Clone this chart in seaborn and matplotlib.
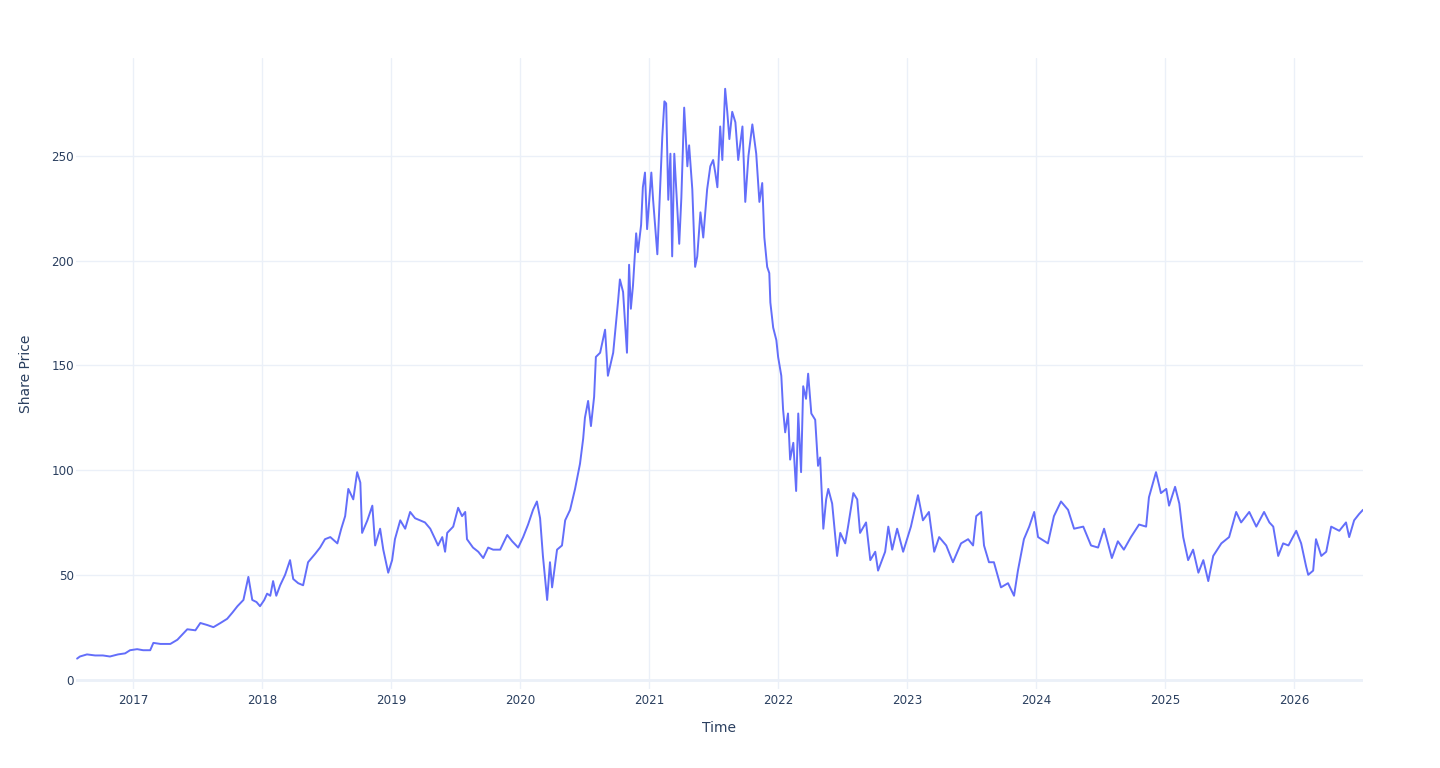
import seaborn as sns
import matplotlib.pyplot as plt
import matplotlib.dates as mdates
import pandas as pd

# Share price (approximate)
dates = [
    '2016-07-26', '2016-08-03', '2016-08-23', '2016-09-15', '2016-10-07', '2016-10-27', '2016-11-19', '2016-12-09', '2016-12-23',
    '2017-01-12', '2017-01-29', '2017-02-18', '2017-02-27', '2017-03-19', '2017-04-16', '2017-05-06', '2017-06-03', '2017-06-26',
    '2017-07-10', '2017-07-30', '2017-08-16', '2017-09-05', '2017-09-24', '2017-10-09', '2017-10-23', '2017-11-09', '2017-11-23',
    '2017-12-04', '2017-12-16', '2017-12-26',
    '2018-01-07', '2018-01-15', '2018-01-24', '2018-02-01', '2018-02-10', '2018-02-21', '2018-03-07', '2018-03-21', '2018-03-30',
    '2018-04-13', '2018-04-27', '2018-05-11', '2018-05-31', '2018-06-14', '2018-06-28', '2018-07-13', '2018-08-02', '2018-08-13',
    '2018-08-24', '2018-09-02', '2018-09-16', '2018-09-27', '2018-10-06', '2018-10-11', '2018-10-26', '2018-11-09', '2018-11-17',
    '2018-12-01', '2018-12-10', '2018-12-24',
    '2019-01-04', '2019-01-12', '2019-01-27', '2019-02-10', '2019-02-24', '2019-03-10', '2019-03-24', '2019-04-07', '2019-04-22',
    '2019-05-06', '2019-05-14', '2019-05-26', '2019-06-03', '2019-06-09', '2019-06-26', '2019-07-10', '2019-07-21', '2019-07-30',
    '2019-08-04', '2019-08-21', '2019-09-05', '2019-09-19', '2019-10-03', '2019-10-17', '2019-11-06', '2019-11-26', '2019-12-10',
    '2019-12-27',
    '2020-01-10', '2020-01-24', '2020-02-07', '2020-02-18', '2020-02-27', '2020-03-06', '2020-03-18', '2020-03-26', '2020-04-01',
    '2020-04-15', '2020-04-29', '2020-05-08', '2020-05-22', '2020-06-05', '2020-06-19', '2020-06-28', '2020-07-03', '2020-07-12',
    '2020-07-20', '2020-07-29', '2020-08-03', '2020-08-15', '2020-08-29', '2020-09-06', '2020-09-21', '2020-10-05', '2020-10-10',
    '2020-10-19', '2020-10-30', '2020-11-05', '2020-11-10', '2020-11-16', '2020-11-25', '2020-11-30', '2020-12-09', '2020-12-14',
    '2020-12-20', '2020-12-26',
    '2021-01-07', '2021-01-12', '2021-01-24', '2021-02-07', '2021-02-13', '2021-02-18', '2021-02-24', '2021-03-02', '2021-03-07',
    '2021-03-13', '2021-03-21', '2021-03-27', '2021-04-02', '2021-04-10', '2021-04-19', '2021-04-24', '2021-05-03', '2021-05-11',
    '2021-05-17', '2021-05-26', '2021-06-03', '2021-06-14', '2021-06-23', '2021-07-01', '2021-07-07', '2021-07-13', '2021-07-21',
    '2021-07-27', '2021-08-04', '2021-08-10', '2021-08-16', '2021-08-24', '2021-09-02', '2021-09-10', '2021-09-22', '2021-09-30',
    '2021-10-09', '2021-10-20', '2021-10-31', '2021-11-09', '2021-11-17', '2021-11-23', '2021-12-01', '2021-12-07', '2021-12-10',
    '2021-12-18', '2021-12-27',
    '2022-01-01', '2022-01-10', '2022-01-15', '2022-01-21', '2022-01-29', '2022-02-04', '2022-02-13', '2022-02-21', '2022-02-27',
    '2022-03-07', '2022-03-13', '2022-03-21', '2022-03-27', '2022-04-05', '2022-04-16', '2022-04-24', '2022-04-30', '2022-05-09',
    '2022-05-17', '2022-05-23', '2022-06-03', '2022-06-17', '2022-06-26', '2022-07-10', '2022-07-18', '2022-08-02', '2022-08-13',
    '2022-08-21', '2022-09-07', '2022-09-19', '2022-10-03', '2022-10-11', '2022-10-31', '2022-11-09', '2022-11-20', '2022-12-04',
    '2022-12-21',
    '2023-01-12', '2023-02-01', '2023-02-15', '2023-03-04', '2023-03-19', '2023-04-02', '2023-04-22', '2023-05-11', '2023-06-03',
    '2023-06-23', '2023-07-07', '2023-07-16', '2023-07-30', '2023-08-07', '2023-08-21', '2023-09-04', '2023-09-24', '2023-10-14',
    '2023-10-31', '2023-11-11', '2023-11-28', '2023-12-13', '2023-12-27',
    '2024-01-07', '2024-02-04', '2024-02-21', '2024-03-12', '2024-04-01', '2024-04-18', '2024-05-14', '2024-06-05', '2024-06-25',
    '2024-07-12', '2024-08-03', '2024-08-20', '2024-09-06', '2024-09-26', '2024-10-19', '2024-11-08', '2024-11-16', '2024-12-06',
    '2024-12-20',
    '2025-01-04', '2025-01-12', '2025-01-29', '2025-02-10', '2025-02-21', '2025-03-07', '2025-03-21', '2025-04-05', '2025-04-19',
    '2025-05-03', '2025-05-17', '2025-06-09', '2025-07-01', '2025-07-21', '2025-08-04', '2025-08-27', '2025-09-16', '2025-10-08',
    '2025-10-23', '2025-11-03', '2025-11-17', '2025-12-01', '2025-12-16',
    '2026-01-07', '2026-01-21', '2026-02-04', '2026-02-10', '2026-02-24', '2026-03-04', '2026-03-19', '2026-04-02', '2026-04-16',
    '2026-05-09', '2026-05-28', '2026-06-06', '2026-06-20', '2026-07-04', '2026-07-15',
]
prices = [
    10, 11, 12, 11.5, 11.5, 11, 12, 12.5, 14,
    14.5, 14, 14, 17.5, 17, 17, 19, 24, 23.5,
    27, 26, 25, 27, 29, 32, 35, 38, 49,
    38, 37, 35,
    38, 41, 40, 47, 40, 45, 50, 57, 48,
    46, 45, 56, 60, 63, 67, 68, 65, 72,
    78, 91, 86, 99, 94, 70, 76, 83, 64,
    72, 62, 51,
    57, 67, 76, 72, 80, 77, 76, 75, 72,
    67, 64, 68, 61, 70, 73, 82, 78, 80,
    67, 63, 61, 58, 63, 62, 62, 69, 66,
    63,
    68, 74, 81, 85, 77, 59, 38, 56, 44,
    62, 64, 76, 81, 91, 103, 115, 125, 133,
    121, 135, 154, 156, 167, 145, 156, 181, 191,
    185, 156, 198, 177, 188, 213, 204, 217, 235,
    242, 215,
    242, 229, 203, 259, 276, 275, 229, 251, 202,
    251, 226, 208, 230, 273, 245, 255, 234, 197,
    202, 223, 211, 234, 245, 248, 242, 235, 264,
    248, 282, 271, 258, 271, 266, 248, 264, 228,
    250, 265, 251, 228, 237, 211, 197, 194, 180,
    168, 162,
    154, 145, 129, 118, 127, 105, 113, 90, 127,
    99, 140, 134, 146, 127, 124, 102, 106, 72,
    86, 91, 84, 59, 70, 65, 73, 89, 86,
    70, 75, 57, 61, 52, 61, 73, 62, 72,
    61,
    73, 88, 76, 80, 61, 68, 64, 56, 65,
    67, 64, 78, 80, 64, 56, 56, 44, 46,
    40, 52, 67, 73, 80,
    68, 65, 78, 85, 81, 72, 73, 64, 63,
    72, 58, 66, 62, 68, 74, 73, 87, 99,
    89,
    91, 83, 92, 84, 68, 57, 62, 51, 57,
    47, 59, 65, 68, 80, 75, 80, 73, 80,
    75, 73, 59, 65, 64,
    71, 65, 54, 50, 52, 67, 59, 61, 73,
    71, 75, 68, 76, 79, 81,
]
year_ticks = list(range(2017, 2027))
price_ticks = [0, 50, 100, 150, 200, 250]

df = pd.DataFrame({'Time': pd.to_datetime(dates), 'Share Price': prices})

sns.set_theme(style='white')
plt.rcParams['font.family'] = ['DejaVu Sans']

text_color = '#2a3f5f'
grid_color = '#EBF0F8'

fig = plt.figure(figsize=(14.4, 7.68), dpi=100)
ax = fig.add_axes([0.0528, 0.1029, 0.8937, 0.8216])

sns.lineplot(data=df, x='Time', y='Share Price', ax=ax, color='#636EFA', linewidth=1.4)

ax.set_xlim(pd.Timestamp('2016-07-23'), df['Time'].max())
ax.set_ylim(-4.5, 296.7)

ax.set_xticks([pd.Timestamp(f'{y}-01-01') for y in year_ticks])
ax.xaxis.set_major_formatter(mdates.DateFormatter('%Y'))
ax.set_yticks(price_ticks)

ax.grid(True, color=grid_color, linewidth=1)
ax.axhline(0, color=grid_color, linewidth=2, zorder=1)
ax.set_axisbelow(True)
for spine in ax.spines.values():
    spine.set_visible(False)

ax.tick_params(axis='both', length=0, labelsize=8.6, labelcolor=text_color)
ax.tick_params(axis='x', pad=3.5)
ax.tick_params(axis='y', pad=1.5)

ax.set_xlabel('Time', fontsize=10, color=text_color, labelpad=10.5)
ax.set_ylabel('Share Price', fontsize=10, color=text_color, labelpad=13)

fig.savefig('out.png', dpi=100, facecolor='white')
